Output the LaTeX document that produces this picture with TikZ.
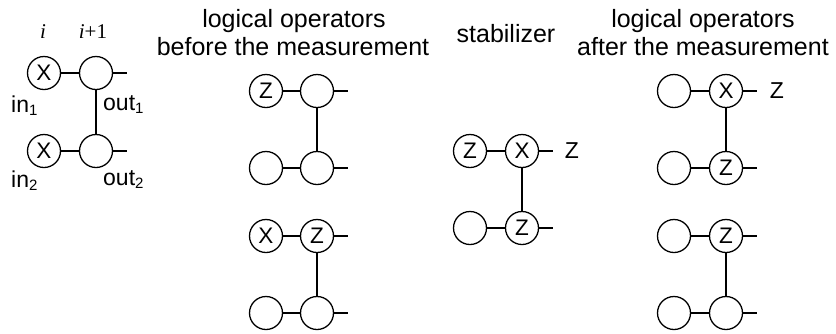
\documentclass[tikz,border=0pt]{standalone}
\usepackage{fontspec}
\setmainfont{Liberation Sans}
\newfontfamily\serifit{Liberation Serif}
\newcommand\subs[1]{\raisebox{-3.5pt}{\fontsize{15}{15}\selectfont #1}}
\begin{document}
\begin{tikzpicture}[x=1pt,y=-1pt,
  q/.style={circle,draw,line width=1.3pt,minimum size=33pt,inner sep=0pt,font=\fontsize{22.5}{22.5}\selectfont},
  wire/.style={line width=1.3pt},
  title/.style={anchor=base,font=\fontsize{25}{28}\selectfont,inner sep=0pt},
  lbl/.style={anchor=base west,font=\fontsize{23}{23}\selectfont,inner sep=0pt},
  idx/.style={anchor=base,font=\serifit\fontsize{21}{21}\selectfont,inner sep=0pt},
  outz/.style={font=\fontsize{23}{23}\selectfont,inner sep=0pt}]
\useasboundingbox (0,0) rectangle (836,333);
% titles
\node[title] (t1a) at (294,27) {logical operators};
\node[title] (t1b) at (293,55) {before the measurement};
\node[title] (t2) at (506,42) {stabilizer};
\node[title] (t3a) at (703,27) {logical operators};
\node[title] (t3b) at (703,55) {after the measurement};
% panel 1
\node[idx] (li) at (43,38) {\itshape i};
\node[idx] (li1) at (93,38) {{\itshape i}+1};
\node[q] (a1) at (44,73) {X};
\node[q] (a2) at (96,73) {};
\node[q] (a3) at (44,151) {X};
\node[q] (a4) at (96,151) {};
\coordinate (a2e) at (127,73);
\coordinate (a4e) at (127,151);
\draw[wire] (a1) -- (a2) (a2) -- (a2e) (a2) -- (a4) (a3) -- (a4) (a4) -- (a4e);
\node[lbl] (in1) at (11,112) {in\subs{1}};
\node[lbl] (out1) at (103,110) {out\subs{1}};
\node[lbl] (in2) at (11,187) {in\subs{2}};
\node[lbl] (out2) at (103,185) {out\subs{2}};
% panel 2
\node[q] (b1) at (266,91) {Z};
\node[q] (b2) at (317,91) {};
\node[q] (b3) at (266,168) {};
\node[q] (b4) at (317,168) {};
\node[q] (b5) at (266,236) {X};
\node[q] (b6) at (317,236) {Z};
\node[q] (b7) at (266,313) {};
\node[q] (b8) at (317,313) {};
\coordinate (b2e) at (348,91);
\coordinate (b4e) at (348,168);
\coordinate (b6e) at (348,236);
\coordinate (b8e) at (348,313);
\draw[wire] (b1) -- (b2) (b2) -- (b2e) (b2) -- (b4) (b3) -- (b4) (b4) -- (b4e);
\draw[wire] (b5) -- (b6) (b6) -- (b6e) (b6) -- (b8) (b7) -- (b8) (b8) -- (b8e);
% panel 3
\node[q] (c1) at (470,151) {Z};
\node[q] (c2) at (522,151) {X};
\node[q] (c3) at (470,228) {};
\node[q] (c4) at (522,228) {Z};
\coordinate (c2e) at (553,151);
\coordinate (c4e) at (553,228);
\draw[wire] (c1) -- (c2) (c2) -- (c2e) (c2) -- (c4) (c3) -- (c4) (c4) -- (c4e);
\node[outz] (cz) at (572,151) {Z};
% panel 4
\node[q] (d1) at (674,91) {};
\node[q] (d2) at (726,91) {X};
\node[q] (d3) at (674,168) {};
\node[q] (d4) at (726,168) {Z};
\node[q] (d5) at (674,236) {};
\node[q] (d6) at (726,236) {Z};
\node[q] (d7) at (674,313) {};
\node[q] (d8) at (726,313) {};
\coordinate (d2e) at (757,91);
\coordinate (d4e) at (757,168);
\coordinate (d6e) at (757,236);
\coordinate (d8e) at (757,313);
\draw[wire] (d1) -- (d2) (d2) -- (d2e) (d2) -- (d4) (d3) -- (d4) (d4) -- (d4e);
\draw[wire] (d5) -- (d6) (d6) -- (d6e) (d6) -- (d8) (d7) -- (d8) (d8) -- (d8e);
\node[outz] (dz) at (777,91) {Z};
\end{tikzpicture}
\end{document}
